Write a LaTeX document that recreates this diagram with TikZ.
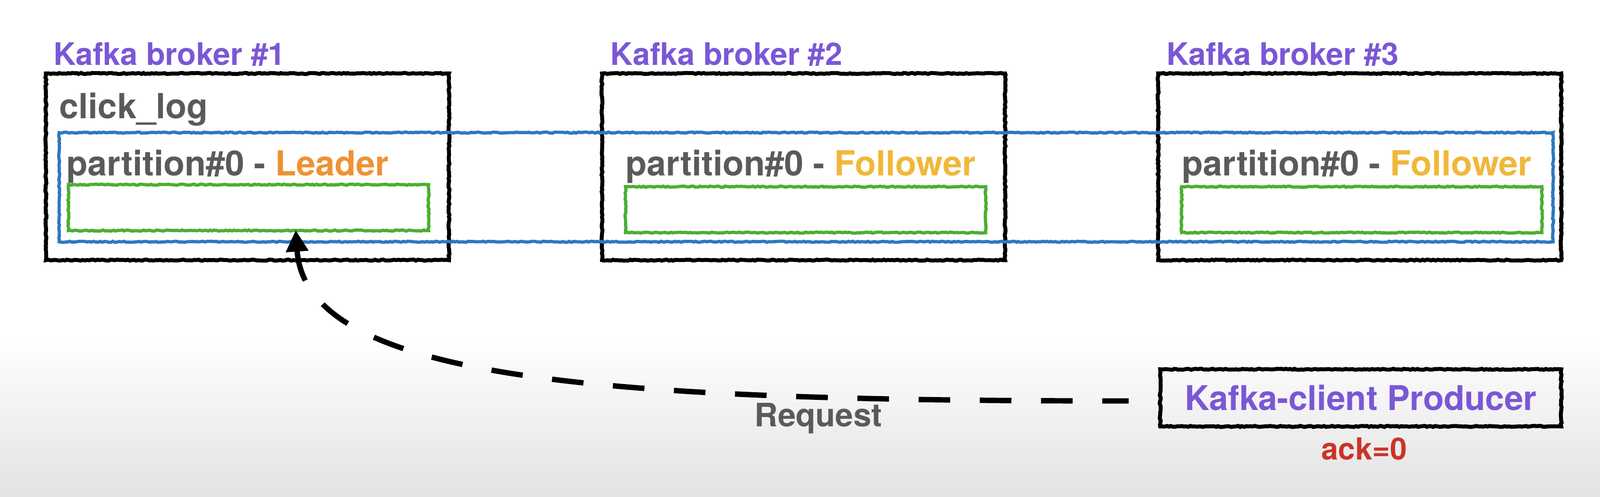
\documentclass[tikz,border=0pt]{standalone}
\usepackage{fontspec}
\setmainfont{TeX Gyre Heros}
\usetikzlibrary{arrows.meta,fit,decorations.pathmorphing,calc}
\definecolor{kpurple}{RGB}{123,87,214}
\definecolor{kgray}{RGB}{90,90,90}
\definecolor{korange}{RGB}{238,146,52}
\definecolor{kyellow}{RGB}{240,184,58}
\definecolor{kblue}{RGB}{47,120,190}
\definecolor{kgreen}{RGB}{75,175,50}
\definecolor{kred}{RGB}{205,50,40}
\tikzset{
  sketch/.style={decorate,decoration={random steps,segment length=1.2pt,amplitude=0.3pt}},
  brokerbox/.style={draw=black,line width=2.2pt,inner sep=0pt,sketch},
  partbox/.style={draw=kblue,line width=1.8pt,inner sep=0pt,sketch},
  segbox/.style={draw=kgreen,line width=1.8pt,inner sep=0pt,sketch},
  title/.style={anchor=base west,inner sep=0pt,text=kpurple,font=\bfseries\fontsize{17.3pt}{20pt}\selectfont},
  lbl/.style={anchor=base west,inner sep=0pt,text=kgray,font=\bfseries\fontsize{19.3pt}{22pt}\selectfont},
  req/.style={line width=3pt,dash pattern=on 0.62cm off 0.58cm,{Triangle[length=0.42cm,width=0.42cm]}-}
}
\begin{document}
\begin{tikzpicture}[x=0.02cm,y=-0.02cm]
\useasboundingbox (0,0) rectangle (1568,487);
\fill[white] (0,0) rectangle (1568,487);
\shade[top color=white,bottom color=black!11] (0,330) rectangle (1568,487);
% brokers
\node[brokerbox,fit={(45,72) (440,255)}] (b1) {};
\node[brokerbox,fit={(590,72) (985,255)}] (b2) {};
\node[brokerbox,fit={(1135,72) (1530,255)}] (b3) {};
\node[title] (t1) at (52,64) {Kafka broker \#1};
\node[title] (t2) at (598,64) {Kafka broker \#2};
\node[title] (t3) at (1143,64) {Kafka broker \#3};
\node[lbl] (topic) at (58,116) {click\_log};
% partition
\node[partbox,fit={(58,130) (1522,237)}] (part) {};
\node[lbl] (p1) at (65,172) {partition\#0 - \textcolor{korange}{Leader}};
\node[lbl] (p2) at (613,172) {partition\#0 - \textcolor{kyellow}{Follower}};
\node[lbl] (p3) at (1158,172) {partition\#0 - \textcolor{kyellow}{Follower}};
\node[segbox,fit={(67,181) (420,226)}] (g1) {};
\node[segbox,fit={(613,183) (966,228)}] (g2) {};
\node[segbox,fit={(1158,183) (1511,228)}] (g3) {};
% producer
\node[brokerbox,fit={(1137,362) (1530,418)}] (prod) {};
\node[text=kpurple,font=\bfseries\fontsize{19pt}{22pt}\selectfont] (prodtxt) at (prod.center) {Kafka-client Producer};
\node[text=kred,font=\bfseries\fontsize{17pt}{20pt}\selectfont] (ack) at (1337,440) {ack=0};
\node[text=kgray,font=\bfseries\fontsize{18pt}{21pt}\selectfont] (reqlbl) at (802,410) {Request};
% request arrow (drawn from the tip so that the dash pattern starts solid at the arrowhead)
\coordinate (tip) at ($(g1.south west)!0.63!(g1.south east)+(0,-2)$);
\draw[req] (tip) .. controls (300,375) and (600,393) .. ([xshift=-0.58cm,yshift=-0.06cm]prod.west);
\end{tikzpicture}
\end{document}
